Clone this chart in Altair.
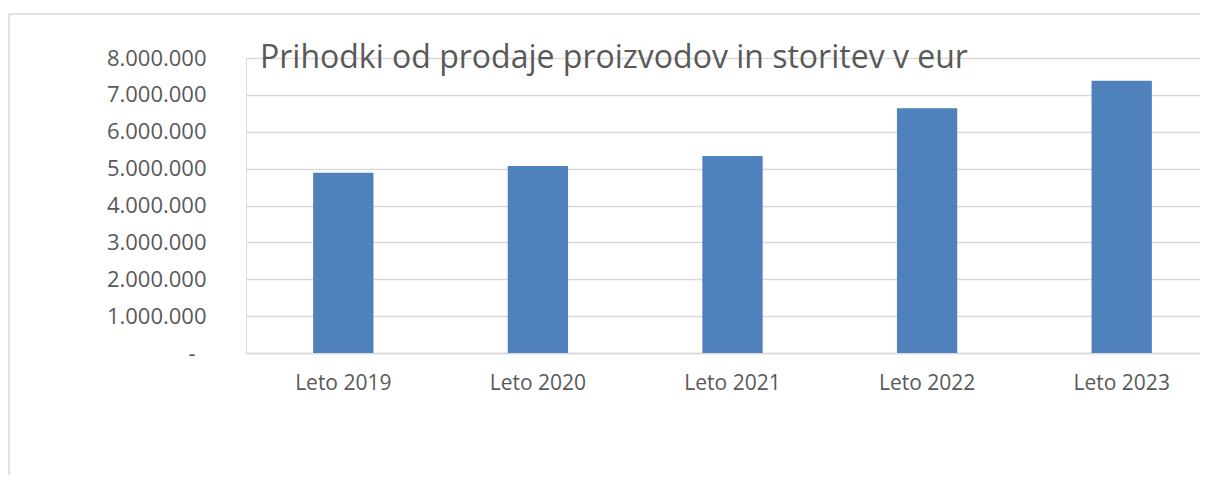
import altair as alt
import pandas as pd

categories = ["Leto 2019", "Leto 2020", "Leto 2021", "Leto 2022", "Leto 2023"]
revenue = [4890000, 5070000, 5340000, 6640000, 7380000]
y_ticks = [0, 1000000, 2000000, 3000000, 4000000, 5000000, 6000000, 7000000, 8000000]
title_text = "Prihodki od prodaje proizvodov in storitev v eur"

df = pd.DataFrame({"leto": categories, "prihodki": revenue})

FONT = "Open Sans"
GRAY = "#595959"
GRID = "#d9d9d9"

label_expr = (
    "datum.value == 0 ? '-' : "
    "replace(format(datum.value, ',.0f'), /,/g, '.')"
)

bars = alt.Chart(df).mark_bar(color="#4F81BD").encode(
    x=alt.X(
        "leto:N",
        sort=categories,
        title=None,
        scale=alt.Scale(paddingInner=0.69, paddingOuter=0.345, range=[0, 973]),
        axis=alt.Axis(
            labelAngle=0,
            labelFont=FONT,
            labelFontSize=21,
            labelColor=GRAY,
            labelPadding=19,
            ticks=False,
            domainColor=GRID,
            domainWidth=1.5,
            grid=False,
        ),
    ),
    y=alt.Y(
        "prihodki:Q",
        title=None,
        scale=alt.Scale(domain=[0, 8000000], nice=False),
        axis=alt.Axis(
            values=y_ticks,
            labelExpr=label_expr,
            labelFont=FONT,
            labelFontSize=22,
            labelColor=GRAY,
            labelPadding={"condition": {"test": "datum.value == 0", "value": 51}, "value": 40},
            ticks=False,
            domain=False,
            gridColor=GRID,
            gridWidth=1.5,
        ),
    ),
)

title_layer = alt.Chart(pd.DataFrame({"t": [title_text]})).mark_text(
    align="left",
    baseline="alphabetic",
    font=FONT,
    fontSize=32,
    color=GRAY,
).encode(
    text="t:N",
    x=alt.value(14),
    y=alt.value(10),
)

border = alt.Chart(pd.DataFrame({"b": [1]})).mark_rect(
    fill=None,
    stroke=GRID,
    strokeWidth=1.5,
).encode(
    x=alt.value(-237),
    x2=alt.value(1100),
    y=alt.value(-44),
    y2=alt.value(460),
)

chart = alt.layer(border, bars, title_layer).properties(
    width=954,
    height=295,
    padding={"left": 238, "top": 50, "right": 0, "bottom": 122},
    autosize=alt.AutoSizeParams(type="none"),
).configure_view(stroke=None).configure(background="white")

chart.save("out.html", embed_options={"renderer": "svg", "actions": False})
